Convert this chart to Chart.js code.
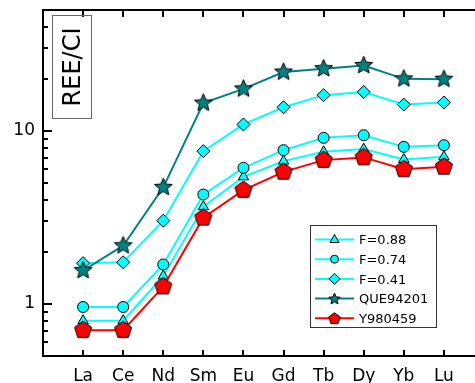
<!DOCTYPE html>
<html><head><meta charset="utf-8">
<script src="https://cdn.jsdelivr.net/npm/chart.js@4.4.1/dist/chart.umd.min.js"></script>
<style>
html,body{margin:0;padding:0;overflow:hidden;background:#fff;width:475px;height:383px}
#c{position:absolute;left:0;top:0;width:492px;height:383px}
</style>
</head><body><canvas id="c" width="492" height="383"></canvas>
<script>
// ---- data ----
const categories = ['La','Ce','Nd','Sm','Eu','Gd','Tb','Dy','Yb','Lu'];
const yTickLabels = [1, 10];
const seriesNames = ['F=0.88','F=0.74','F=0.41','QUE94201','Y980459'];
const f088 = [0.80, 0.80, 1.45, 3.65, 5.43, 6.69, 7.57, 7.85, 6.84, 7.08];
const f074 = [0.96, 0.96, 1.69, 4.29, 6.12, 7.74, 9.12, 9.44, 8.09, 8.27];
const f041 = [1.72, 1.74, 3.03, 7.64, 10.9, 13.7, 16.1, 16.8, 14.2, 14.6];
const que94201 = [1.56, 2.17, 4.72, 14.5, 17.5, 21.9, 22.9, 23.9, 20.0, 19.9];
const y980459 = [0.705, 0.705, 1.26, 3.15, 4.55, 5.8, 6.78, 7.03, 6.0, 6.2];

const CYAN = '#00FFFF', TEAL = '#008080', RED = '#FF0000';
const FONT = "'DejaVu Sans', sans-serif";

function starPath(g, x, y, R, r) {
  g.beginPath();
  for (let i = 0; i < 10; i++) {
    const a = -Math.PI / 2 + i * Math.PI / 5;
    const rad = i % 2 ? r : R;
    g.lineTo(x + rad * Math.cos(a), y + rad * Math.sin(a));
  }
  g.closePath();
}
function polyPath(g, x, y, R, n) {
  g.beginPath();
  for (let i = 0; i < n; i++) {
    const a = -Math.PI / 2 + i * 2 * Math.PI / n;
    g.lineTo(x + R * Math.cos(a), y + R * Math.sin(a));
  }
  g.closePath();
}
function makeImg(kind, R, fill) {
  const s = Math.ceil(R * 2 + 4);
  const c = document.createElement('canvas');
  c.width = s; c.height = s;
  const g = c.getContext('2d');
  if (kind === 'star') starPath(g, s / 2, s / 2, R, R * 0.45);
  else polyPath(g, s / 2, s / 2, R, 5);
  g.fillStyle = fill; g.fill();
  g.lineWidth = 1; g.strokeStyle = '#000'; g.stroke();
  return c;
}
const starImg = makeImg('star', 9.3, TEAL);
const pentImg = makeImg('pent', 9.0, RED);

function pts(vals) { return vals.map((v, i) => ({ x: i, y: v })); }

const datasets = [
  { label: seriesNames[0], data: pts(f088), borderColor: CYAN, backgroundColor: CYAN, borderWidth: 2,
    pointStyle: 'triangle', pointRadius: 6, pointBorderColor: '#000', pointBorderWidth: 1, pointBackgroundColor: CYAN, order: 4 },
  { label: seriesNames[1], data: pts(f074), borderColor: CYAN, backgroundColor: CYAN, borderWidth: 2,
    pointStyle: 'circle', pointRadius: 5.5, pointBorderColor: '#000', pointBorderWidth: 1, pointBackgroundColor: CYAN, order: 3 },
  { label: seriesNames[2], data: pts(f041), borderColor: CYAN, backgroundColor: CYAN, borderWidth: 2,
    pointStyle: 'rectRot', pointRadius: 6.5, pointBorderColor: '#000', pointBorderWidth: 1, pointBackgroundColor: CYAN, order: 2 },
  { label: seriesNames[3], data: pts(que94201), borderColor: TEAL, backgroundColor: TEAL, borderWidth: 2,
    pointStyle: starImg, pointRadius: 3, order: 1 },
  { label: seriesNames[4], data: pts(y980459), borderColor: RED, backgroundColor: RED, borderWidth: 2,
    pointStyle: pentImg, pointRadius: 3, order: 0 }
];

const frame = {
  id: 'frame',
  afterDraw(chart) {
    const g = chart.ctx, a = chart.chartArea;
    const xs = chart.scales.x, ys = chart.scales.y;
    g.save();
    g.strokeStyle = '#000'; g.lineWidth = 2;
    g.beginPath();
    g.moveTo(a.left, a.top); g.lineTo(a.right, a.top);
    g.moveTo(a.left, a.top - 1); g.lineTo(a.left, a.bottom + 1);
    g.moveTo(a.left, a.bottom); g.lineTo(a.right, a.bottom);
    g.moveTo(a.right, a.top - 1); g.lineTo(a.right, a.bottom + 1);
    g.stroke();
    g.beginPath();
    categories.forEach((c, i) => {
      const x = Math.round(xs.getPixelForValue(i));
      g.moveTo(x, a.bottom); g.lineTo(x, a.bottom - 6);
      g.moveTo(x, a.top); g.lineTo(x, a.top + 7);
    });
    g.stroke();
    g.beginPath();
    const minorVals = [0.6,0.7,0.8,0.9,2,3,4,5,6,7,8,9,20,30,40];
    minorVals.forEach(v => {
      const y = Math.round(ys.getPixelForValue(v));
      g.moveTo(a.left, y); g.lineTo(a.left + 5, y);
    });
    yTickLabels.forEach(v => {
      const y = Math.round(ys.getPixelForValue(v));
      g.moveTo(a.left, y); g.lineTo(a.left + 9, y);
    });
    g.stroke();

    g.lineWidth = 1; g.strokeStyle = '#666';
    g.strokeRect(52.5, 15.5, 39, 103);
    g.save();
    g.translate(74, 67);
    g.rotate(-Math.PI / 2);
    g.fillStyle = '#000';
    g.font = '24px ' + FONT;
    g.textAlign = 'center'; g.textBaseline = 'middle';
    g.fillText('REE/CI', 0, 0);
    g.restore();

    g.lineWidth = 1; g.strokeStyle = '#333';
    g.strokeRect(310.5, 225.5, 126, 102);
    const mk = [
      (x, y) => { g.beginPath(); g.moveTo(x, y - 5); g.lineTo(x + 4.5, y + 3); g.lineTo(x - 4.5, y + 3); g.closePath(); g.fillStyle = CYAN; g.fill(); g.stroke(); },
      (x, y) => { g.beginPath(); g.arc(x, y, 4, 0, Math.PI * 2); g.fillStyle = CYAN; g.fill(); g.stroke(); },
      (x, y) => { g.beginPath(); g.moveTo(x, y - 5.5); g.lineTo(x + 5.5, y); g.lineTo(x, y + 5.5); g.lineTo(x - 5.5, y); g.closePath(); g.fillStyle = CYAN; g.fill(); g.stroke(); },
      (x, y) => { starPath(g, x, y + 0.5, 6, 2.7); g.fillStyle = TEAL; g.fill(); g.stroke(); },
      (x, y) => { polyPath(g, x, y + 0.5, 6, 5); g.fillStyle = RED; g.fill(); g.stroke(); }
    ];
    const cols = [CYAN, CYAN, CYAN, TEAL, RED];
    for (let i = 0; i < 5; i++) {
      const y = 239.5 + i * 19.7;
      g.strokeStyle = cols[i]; g.lineWidth = 2;
      g.beginPath(); g.moveTo(315, y); g.lineTo(354, y); g.stroke();
      g.strokeStyle = '#000'; g.lineWidth = 1;
      mk[i](334.5, y);
      g.fillStyle = '#000';
      g.font = '13px ' + FONT;
      g.textAlign = 'left'; g.textBaseline = 'alphabetic';
      g.fillText(seriesNames[i], 359, y + 4.8);
    }
    g.restore();
  }
};

function zeroPad(s) { s.paddingTop = 0; s.paddingBottom = 0; s.paddingLeft = 0; s.paddingRight = 0; }

new Chart(document.getElementById('c'), {
  type: 'line',
  data: { datasets },
  options: {
    responsive: false, maintainAspectRatio: false, animation: false, devicePixelRatio: 1,
    layout: { padding: { top: 10, right: 8, left: 0, bottom: 0 } },
    plugins: { legend: { display: false }, tooltip: { enabled: false } },
    scales: {
      x: {
        type: 'linear', min: -1, max: categories.length,
        grid: { display: false, drawTicks: false }, border: { display: false },
        ticks: { stepSize: 1, autoSkip: false, maxRotation: 0, padding: 10, color: '#000',
          font: { family: FONT, size: 17 },
          callback: (v) => (categories[v] !== undefined ? categories[v] : '') },
        afterFit: (s) => { s.height = 27; zeroPad(s); }
      },
      y: {
        type: 'logarithmic', min: 0.5, max: 50,
        grid: { display: false, drawTicks: false }, border: { display: false },
        ticks: { autoSkip: false, padding: 8, color: '#000',
          font: { family: FONT, size: 17 },
          callback: (v) => { const m = yTickLabels.find(t => Math.abs(t - v) < 1e-9); return m !== undefined ? String(m) : ''; } },
        afterFit: (s) => { s.width = 43; zeroPad(s); }
      }
    }
  },
  plugins: [frame]
});
</script>
</body></html>
